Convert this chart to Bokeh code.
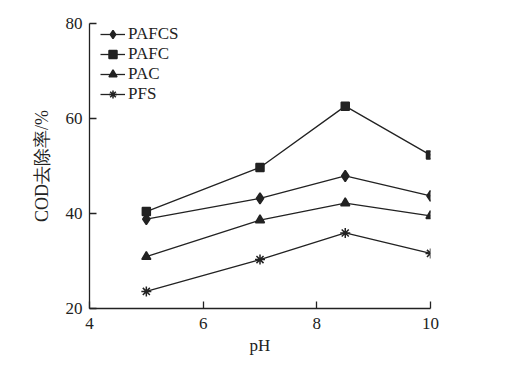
from bokeh.plotting import figure
from bokeh.embed import file_html
from bokeh.resources import INLINE
from bokeh.models import Legend, LegendItem, FixedTicker, Range1d

ph = [5, 7, 8.5, 10]
pafcs = [38.8, 43.2, 47.9, 43.7]
pafc = [40.4, 49.7, 62.6, 52.3]
pac = [30.9, 38.6, 42.2, 39.5]
pfs = [23.6, 30.3, 35.9, 31.6]

x_ticks = [4, 6, 8, 10]
y_ticks = [20, 40, 60, 80]

FONT = "Liberation Serif"
C = "#222222"

p = figure(width=500, height=365, output_backend="svg", toolbar_location=None,
           x_range=Range1d(4, 10), y_range=Range1d(20, 80),
           min_border_left=89, min_border_right=70, min_border_top=23, min_border_bottom=57)
p.outline_line_color = None
p.grid.visible = False
p.background_fill_color = "white"

series = [("PAFCS", pafcs, "diamond", 11), ("PAFC", pafc, "square", 8),
          ("PAC", pac, "triangle", 9), ("PFS", pfs, "asterisk", 10)]
items = []
for name, ys, mk, sz in series:
    l = p.line(ph, ys, line_color=C, line_width=1.3)
    m = p.scatter(ph, ys, marker=mk, size=sz, fill_color=C, line_color=C, line_width=1.5)
    items.append(LegendItem(label=name, renderers=[l, m]))

leg = Legend(items=items, location=(11, 204), margin=0, padding=0, spacing=0,
             glyph_width=25, glyph_height=20, label_height=20, label_standoff=3,
             label_text_font=FONT, label_text_font_size="17px", label_text_color=C,
             border_line_color=None, background_fill_alpha=0)
p.add_layout(leg)

for ax in (p.xaxis[0], p.yaxis[0]):
    ax.major_label_text_font = FONT
    ax.major_label_text_font_size = "17px"
    ax.major_label_text_color = C
    ax.axis_label_text_font = FONT
    ax.axis_label_text_font_style = "normal"
    ax.axis_label_text_color = C
    ax.axis_line_color = C
    ax.axis_line_width = 1.3
    ax.major_tick_line_color = C
    ax.major_tick_line_width = 1.3
    ax.major_tick_in = 7
    ax.major_tick_out = 0
    ax.minor_tick_line_color = None

p.xaxis.major_label_standoff = 9
p.yaxis.major_label_standoff = 7
p.xaxis.ticker = FixedTicker(ticks=x_ticks)
p.yaxis.ticker = FixedTicker(ticks=y_ticks)
p.xaxis.axis_label = "pH"
p.yaxis.axis_label = "COD去除率/%"
p.xaxis.axis_label_text_font_size = "17px"
p.yaxis.axis_label_text_font_size = "18px"
p.xaxis.axis_label_standoff = 4
p.yaxis.axis_label_standoff = 11

open("out.html", "w").write(file_html(p, INLINE))
